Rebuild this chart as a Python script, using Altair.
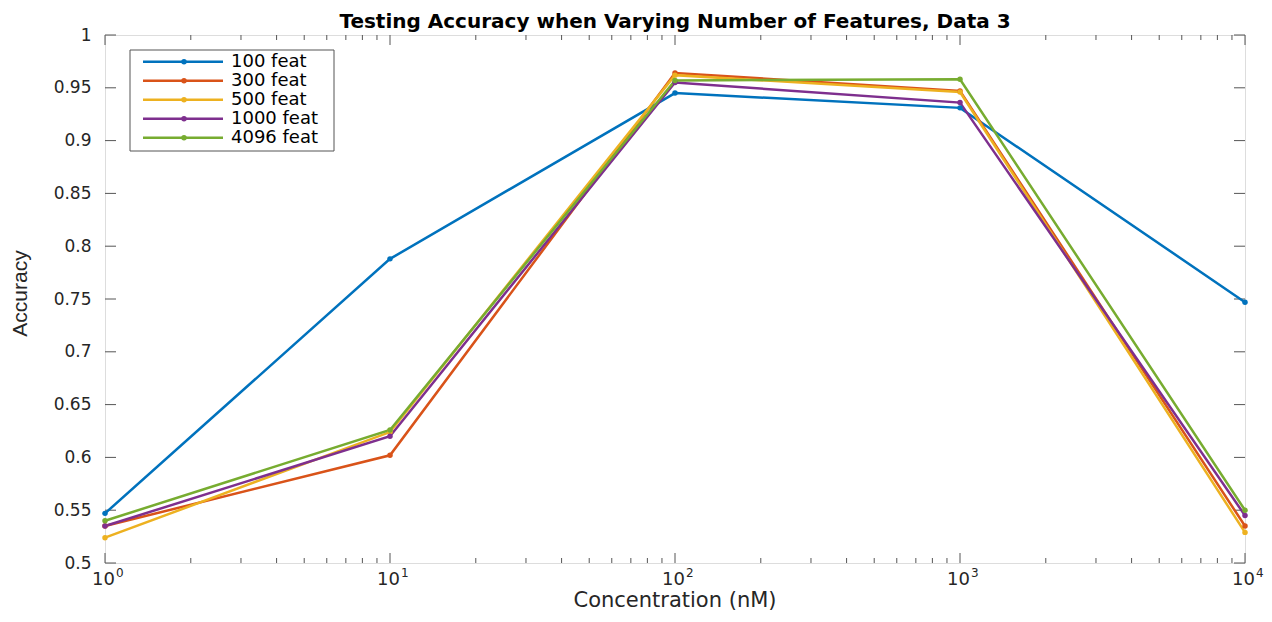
import altair as alt
import pandas as pd

# ---- data ----
concentration = [1, 10, 100, 1000, 10000]
series_names = ["100 feat", "300 feat", "500 feat", "1000 feat", "4096 feat"]
acc_100 = [0.547, 0.788, 0.945, 0.931, 0.747]
acc_300 = [0.535, 0.602, 0.964, 0.947, 0.535]
acc_500 = [0.524, 0.624, 0.962, 0.946, 0.529]
acc_1000 = [0.535, 0.620, 0.955, 0.936, 0.545]
acc_4096 = [0.540, 0.626, 0.957, 0.958, 0.550]
series_colors = ["#0072BD", "#D95319", "#EDB120", "#7E2F8E", "#77AC30"]

y_ticks = [0.5, 0.55, 0.6, 0.65, 0.7, 0.75, 0.8, 0.85, 0.9, 0.95, 1.0]
x_major = [1, 10, 100, 1000, 10000]
x_exponents = ["0", "1", "2", "3", "4"]
x_minor = [m * d for d in [1, 10, 100, 1000] for m in range(2, 10)]
chart_title = ["Testing Accuracy when Varying Number of Features, Data 3"]
x_title = ["Concentration (nM)"]

W, H = 1140, 528
AX = "#555555"
TXT = "#262626"

rows = []
for name, vals in zip(series_names, [acc_100, acc_300, acc_500, acc_1000, acc_4096]):
    for c, v in zip(concentration, vals):
        rows.append({"series": name, "conc": c, "acc": v})
df = pd.DataFrame(rows)

xs = alt.Scale(type="log", domain=[1, 10000], nice=False)
ys = alt.Scale(domain=[0.5, 1.0], nice=False, zero=False)
cs = alt.Scale(domain=series_names, range=series_colors)

XAX = alt.Axis(labels=False, ticks=False, domain=False, grid=False, title="")


def X(field):
    return alt.X(field, scale=xs, axis=XAX)


base = alt.Chart(df)

lines = base.mark_line(strokeWidth=2.5).encode(
    x=X("conc:Q"),
    y=alt.Y("acc:Q", scale=ys,
            axis=alt.Axis(values=y_ticks, format=".2~f", ticks=False, domain=False,
                          grid=False, labelPadding=14, labelFont="DejaVu Sans",
                          labelFontSize=17, labelColor=TXT,
                          title="Accuracy", titleFont="Liberation Sans",
                          titleFontSize=21, titleFontWeight="normal", titleColor=TXT,
                          titleX=-85, titleY=258, titleBaseline="middle")),
    color=alt.Color("series:N", scale=cs, legend=None),
    detail="series:N",
)
points = base.mark_point(filled=True, size=30, opacity=1).encode(
    x=X("conc:Q"),
    y=alt.Y("acc:Q", scale=ys),
    color=alt.Color("series:N", scale=cs, legend=None),
)

# ---- inward ticks (MATLAB style) ----
ytk = alt.Chart(pd.DataFrame({"v": y_ticks}))
y_left = ytk.mark_rule(color=AX, strokeWidth=1).encode(
    y=alt.Y("v:Q", scale=ys), x=alt.value(0), x2=alt.value(11))
y_right = ytk.mark_rule(color=AX, strokeWidth=1).encode(
    y=alt.Y("v:Q", scale=ys), x=alt.value(W - 11), x2=alt.value(W))

xmaj = alt.Chart(pd.DataFrame({"v": x_major, "e": x_exponents}))
xmin = alt.Chart(pd.DataFrame({"v": x_minor}))
x_bot = xmaj.mark_rule(color=AX, strokeWidth=1).encode(
    x=X("v:Q"), y=alt.value(H - 10), y2=alt.value(H))
x_top = xmaj.mark_rule(color=AX, strokeWidth=1).encode(
    x=X("v:Q"), y=alt.value(0), y2=alt.value(10))
xm_bot = xmin.mark_rule(color=AX, strokeWidth=1).encode(
    x=X("v:Q"), y=alt.value(H - 5), y2=alt.value(H))
xm_top = xmin.mark_rule(color=AX, strokeWidth=1).encode(
    x=X("v:Q"), y=alt.value(0), y2=alt.value(5))

x_lab10 = xmaj.mark_text(font="DejaVu Sans", fontSize=18, color=TXT,
                         align="right", baseline="alphabetic", dx=10).encode(
    x=X("v:Q"), y=alt.value(H + 22), text=alt.value("10"))
x_labexp = xmaj.mark_text(font="DejaVu Sans", fontSize=12, color=TXT,
                          align="left", baseline="alphabetic", dx=11).encode(
    x=X("v:Q"), y=alt.value(H + 14), text="e:N")

# ---- titles as text marks ----
title_txt = alt.Chart(pd.DataFrame({"t": chart_title})).mark_text(
    font="DejaVu Sans", fontSize=20, fontWeight="bold", color="#000000",
    align="center", baseline="alphabetic").encode(
    x=alt.value(W / 2), y=alt.value(-7), text="t:N")
xtitle_txt = alt.Chart(pd.DataFrame({"t": x_title})).mark_text(
    font="DejaVu Sans", fontSize=21, color=TXT,
    align="center", baseline="alphabetic").encode(
    x=alt.value(W / 2), y=alt.value(H + 44), text="t:N")

# ---- legend box (MATLAB style) ----
leg_df = pd.DataFrame({"series": series_names, "row": list(range(len(series_names)))})
leg = alt.Chart(leg_df).transform_calculate(ly="26.7 + datum.row * 19")
leg_box = alt.Chart(pd.DataFrame({"k": [0]})).mark_rect(
    fill="white", stroke=AX, strokeWidth=1).encode(
    x=alt.value(25), x2=alt.value(229), y=alt.value(15), y2=alt.value(116))
leg_lines = leg.mark_rule(strokeWidth=2.5).encode(
    x=alt.value(38), x2=alt.value(118), y=alt.Y("ly:Q", scale=None),
    color=alt.Color("series:N", scale=cs, legend=None))
leg_pts = leg.mark_point(filled=True, size=30, opacity=1).encode(
    x=alt.value(79), y=alt.Y("ly:Q", scale=None),
    color=alt.Color("series:N", scale=cs, legend=None))
leg_txt = leg.mark_text(font="DejaVu Sans", fontSize=18, color="#000000",
                        align="left", baseline="middle").encode(
    x=alt.value(126), y=alt.Y("ly:Q", scale=None), text="series:N")

chart = alt.layer(
    y_left, y_right, x_bot, x_top, xm_bot, xm_top,
    lines, points,
    leg_box, leg_lines, leg_pts, leg_txt,
    x_lab10, x_labexp, title_txt, xtitle_txt,
).properties(
    width=W, height=H,
    autosize=alt.AutoSizeParams(type="none"),
    padding={"left": 97, "top": 27, "right": 19, "bottom": 51},
).configure_view(stroke=AX, strokeWidth=1).configure(background="white")

chart.save("out.html", embed_options={"renderer": "svg", "actions": False})
